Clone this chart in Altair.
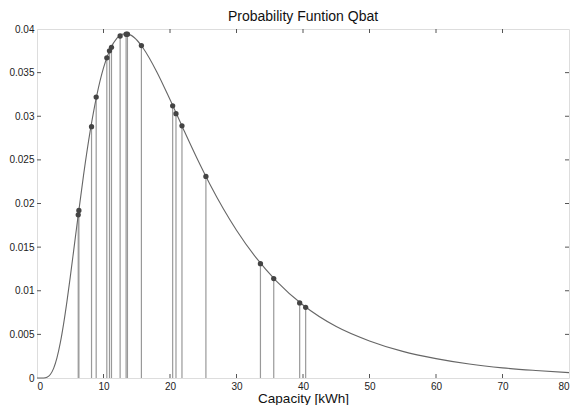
import altair as alt
import pandas as pd

# Density curve
curve_x = [0, 1, 1.5, 2, 2.5, 3, 3.5, 4, 4.5, 5, 5.5, 6, 7, 8, 9, 10, 11, 12, 13, 14,
           15, 16, 18, 20, 22, 24, 26, 28, 30, 33, 36, 40, 45, 50, 55, 60, 65, 70, 75, 80]
curve_y = [0, 0.0000075, 0.000089, 0.000397, 0.00110, 0.00230, 0.00402, 0.00621, 0.00876,
           0.01157, 0.01452, 0.01751, 0.02326, 0.02832, 0.03243, 0.03554, 0.03767, 0.03892,
           0.03942, 0.03933, 0.03874, 0.03777, 0.03511, 0.03191, 0.02855, 0.02528, 0.02222,
           0.01943, 0.01694, 0.01373, 0.01111, 0.00837, 0.00590, 0.00425, 0.00305, 0.00222,
           0.00160, 0.00116, 0.00086, 0.00062]

# Sampled capacities (stems with dots)
stem_x = [6.2, 6.3, 8.2, 8.9, 10.5, 10.9, 11.2, 12.5, 13.4, 13.6, 15.7,
          20.4, 20.9, 21.8, 25.4, 33.6, 35.6, 39.5, 40.4]
stem_y = [0.0187, 0.0192, 0.0288, 0.0322, 0.0367, 0.0375, 0.0379, 0.0392, 0.0394, 0.0394, 0.0381,
          0.0312, 0.0303, 0.0289, 0.0231, 0.0131, 0.0114, 0.0086, 0.0081]

x_ticks = [0, 10, 20, 30, 40, 50, 60, 70, 80]
y_ticks = [0, 0.005, 0.01, 0.015, 0.02, 0.025, 0.03, 0.035, 0.04]
inner_x_ticks = [10, 20, 30, 40, 50, 60, 70]
inner_y_ticks = [0.005, 0.01, 0.015, 0.02, 0.025, 0.03, 0.035]

W, H = 532, 349
FONT = "Liberation Sans"

curve_df = pd.DataFrame({"x": curve_x, "y": curve_y})
stem_df = pd.DataFrame({"x": stem_x, "y": stem_y, "y0": [0] * len(stem_x)})
xt_df = pd.DataFrame({"x": inner_x_ticks})
yt_df = pd.DataFrame({"y": inner_y_ticks})

xscale = alt.Scale(domain=[0, 80], nice=False)
yscale = alt.Scale(domain=[0, 0.04], nice=False)

xaxis = alt.Axis(values=x_ticks, ticks=False, tickSize=0, domain=False, grid=False,
                 labelPadding=3, labelFontSize=10, labelFont=FONT, labelColor="#222",
                 title="Capacity [kWh]", titleFont=FONT, titleFontSize=13.5,
                 titleFontWeight="normal", titleColor="#111", titleY=24,
                 titleBaseline="alphabetic")
yaxis = alt.Axis(values=y_ticks, ticks=False, tickSize=0, domain=False, grid=False,
                 labelPadding=3, labelFontSize=10, labelFont=FONT, labelColor="#222",
                 format="~g", title=None)

stems = alt.Chart(stem_df).mark_rule(color="#999999", strokeWidth=1.2).encode(
    x=alt.X("x:Q", scale=xscale, axis=xaxis),
    y=alt.Y("y0:Q", scale=yscale, axis=yaxis),
    y2="y:Q",
)

line = alt.Chart(curve_df).mark_line(color="#666666", strokeWidth=1.1,
                                       interpolate="monotone").encode(
    x=alt.X("x:Q", scale=xscale),
    y=alt.Y("y:Q", scale=yscale),
)

dots = alt.Chart(stem_df).mark_circle(color="#444444", size=28, opacity=1).encode(
    x=alt.X("x:Q", scale=xscale),
    y=alt.Y("y:Q", scale=yscale),
)

tick_style = dict(color="#555555", strokeWidth=1)
bottom_ticks = alt.Chart(xt_df).mark_rule(**tick_style).encode(
    x=alt.X("x:Q", scale=xscale), y=alt.value(H), y2=alt.value(H - 4))
top_ticks = alt.Chart(xt_df).mark_rule(**tick_style).encode(
    x=alt.X("x:Q", scale=xscale), y=alt.value(0), y2=alt.value(4))
left_ticks = alt.Chart(yt_df).mark_rule(**tick_style).encode(
    y=alt.Y("y:Q", scale=yscale), x=alt.value(0), x2=alt.value(4))
right_ticks = alt.Chart(yt_df).mark_rule(**tick_style).encode(
    y=alt.Y("y:Q", scale=yscale), x=alt.value(W), x2=alt.value(W - 4))

chart = alt.layer(stems, line, dots, bottom_ticks, top_ticks, left_ticks, right_ticks).properties(
    width=W, height=H,
    title=alt.TitleParams("Probability Funtion Qbat", font=FONT, fontSize=14,
                          fontWeight="normal", color="#111", anchor="middle", offset=0),
    autosize=alt.AutoSizeParams(type="none"),
    padding={"left": 29, "top": 21, "right": 1, "bottom": 27},
).configure_view(
    stroke="#555555", strokeWidth=1
).configure(background="white")

chart.save("out.html", embed_options={"renderer": "svg", "actions": False})
